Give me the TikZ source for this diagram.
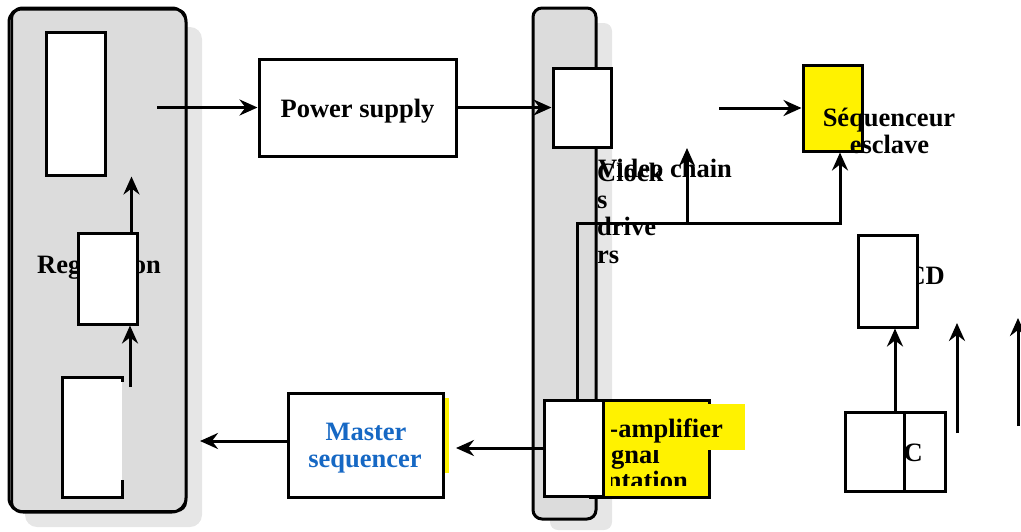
\documentclass[tikz,border=0pt]{standalone}
\usepackage{fontspec}
\setmainfont{Liberation Serif}
\usetikzlibrary{arrows.meta}
\definecolor{panelgray}{HTML}{DCDCDC}
\definecolor{shadowgray}{HTML}{E6E6E6}
\definecolor{msblue}{RGB}{22,104,196}
\begin{document}
\begin{tikzpicture}[x=1pt,y=-1pt,
  box/.style={draw=black,line width=3pt,fill=white,inner sep=0pt},
  lbl/.style={font=\bfseries\fontsize{26.5}{27}\selectfont,inner sep=0pt},
  arr/.style={line width=3pt,-{Stealth[length=18pt,width=16pt,inset=6pt]}},
  ln/.style={line width=3pt}]
\useasboundingbox (0,0) rectangle (1021,531);

% left panel
\fill[shadowgray,rounded corners=12pt] (25,27) rectangle (202,527);
\node[draw=black,line width=3pt,fill=panelgray,rounded corners=14pt,inner sep=0pt,minimum width=177pt,minimum height=504pt] (lp) at (97.5,260) {};
\draw[line width=2pt,rounded corners=9pt] (12,9.5) rectangle (186,511);

% middle panel
\fill[shadowgray,rounded corners=8pt] (550,23) rectangle (612,530);
\node[draw=black,line width=3pt,fill=panelgray,rounded corners=9pt,inner sep=0pt,minimum width=63pt,minimum height=511pt] (mp) at (564.5,263.5) {};

% left panel content
\node[lbl,anchor=base west] (reg) at (37,273) {Regulation};
\node[box,minimum width=59pt,minimum height=143pt] (lt) at (75.5,103.5) {};
\node[box,minimum width=59pt,minimum height=91pt] (lm) at (107.5,278.5) {};
\node[fill=white,inner sep=0pt,minimum width=59pt,minimum height=119pt] (lb) at (92.5,437.5) {};
\draw[ln] ([yshift=-4pt]lb.north east) -- (lb.north east) -- (lb.north west) -- (lb.south west) -- (lb.south east) -- ++(0,-17);

% power supply
\node[box,minimum width=197pt,minimum height=97pt] (ps) at (357.5,107.5) {};
\node[lbl,anchor=base] (psT) at (357.5,117) {Power supply};

% middle small boxes
\node[box,minimum width=58pt,minimum height=79pt] (mt) at (582,107.5) {};

% master sequencer
\fill[yellow] (420,398) rectangle (449,473);
\node[box,minimum width=155pt,minimum height=104pt] (ms) at (365.5,445) {};
\node[lbl,anchor=base,text=msblue] (msT1) at (366,440) {Master};
\node[lbl,anchor=base,text=msblue] (msT2) at (365,467) {sequencer};

% pre-amplifier
\node[draw=black,line width=3pt,fill=yellow,inner sep=0pt,minimum width=119pt,minimum height=97pt] (pre) at (649.5,448.5) {};
\begin{scope}
  \clip (611,402) rectangle (708,485);
  \node[lbl,anchor=base east] (preT2) at (660,463) {signal};
  \node[lbl,anchor=base east] (preT3) at (688,489) {presentation};
\end{scope}
\fill[yellow] (590,404) rectangle (745,450);
\begin{scope}
  \clip (611,395) rectangle (760,455);
  \node[lbl,anchor=base east] (preT1) at (723,437) {Pre-amplifier};
\end{scope}
\node[box,minimum width=59pt,minimum height=96pt] (mb) at (573.5,448) {};

% clocks drivers / video chain texts
\node[lbl,anchor=base west] (vc) at (598,177) {Video chain};
\node[lbl,anchor=base west] (ck1) at (597,181) {Clock};
\node[lbl,anchor=base west] (ck2) at (597,208) {s};
\node[lbl,anchor=base west] (ck3) at (597,235) {drive};
\node[lbl,anchor=base west] (ck4) at (597,263) {rs};

% sequenceur esclave
\node[draw=black,line width=3pt,fill=yellow,inner sep=0pt,minimum width=59pt,minimum height=86pt] (sq) at (832.5,108) {};
\node[lbl,anchor=base] (sqT1) at (889,126) {Séquenceur};
\node[lbl,anchor=base] (sqT2) at (889.5,153) {esclave};

% CCD
\node[lbl,anchor=base east] (cdT) at (945,284) {CCD};
\node[box,minimum width=59pt,minimum height=92pt] (cd) at (887.5,281) {};

% ADC
\node[box,minimum width=100pt,minimum height=79pt] (adc) at (895,451.5) {};
\node[lbl,anchor=base east] (adcT) at (923,461) {ADC};
\node[box,minimum width=59pt,minimum height=79pt] (adcL) at (874.5,451.5) {};

% coordinates
\coordinate (a1) at (157,107.5);
\coordinate (s3) at (719,108);
\coordinate (lbtop) at (130,387);
\coordinate (lpE) at (200,441);
\coordinate (msin) at (456,448);
\coordinate (j1) at (577,223);
\coordinate (j2) at (840,223);
\coordinate (j3) at (687,223);
\coordinate (v1) at (687,148);
\coordinate (r1s) at (957,433);
\coordinate (r1e) at (957,323);
\coordinate (r2s) at (1018,426);
\coordinate (r2e) at (1018,318);

% connectors
\draw[arr] (a1) -- (ps.west);
\draw[arr] (ps.east) -- (mt.west);
\draw[arr] (s3) -- (s3 -| sq.west);
\draw[arr] ([xshift=-7pt]lm.north east) -- ([xshift=-7pt]lm.north east |- lt.south);
\draw[arr] (lbtop) -- (lbtop |- lm.south);
\draw[arr] ([yshift=4pt]ms.west) -- (lpE);
\draw[arr] (mb.west) -- (msin);
\draw[arr] (mb.north -| j1) -- (j1) -- (j2) -- (j2 |- sq.south);
\draw[arr] (j3) -- (v1);
\draw[arr] (adc.north) -- (adc.north |- cd.south);
\draw[arr] (r1s) -- (r1e);
\draw[arr] (r2s) -- (r2e);
\end{tikzpicture}
\end{document}
